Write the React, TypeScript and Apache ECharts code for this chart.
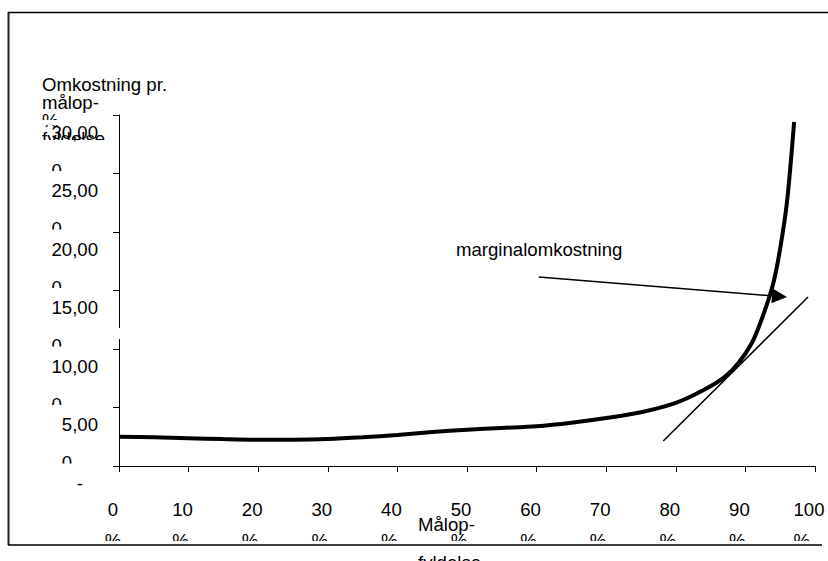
import React, { useEffect, useRef } from 'react';
import * as echarts from 'echarts';

// ---- data ----
const xValues = [0, 5, 10, 15, 20, 25, 30, 35, 40, 45, 50, 55, 60, 65, 70, 75, 80, 84, 87, 89, 91, 92.5, 94, 95, 96, 97];
const costValues = [2.5, 2.45, 2.38, 2.3, 2.25, 2.25, 2.3, 2.45, 2.65, 2.9, 3.1, 3.25, 3.4, 3.7, 4.1, 4.6, 5.4, 6.5, 7.6, 8.8, 10.6, 12.8, 15.6, 18.6, 22.7, 29.4];
const tangentX = [78.2, 99];
const tangentY = [2.14, 14.44];
const arrowFrom = [60.3, 16.15];
const arrowTo = [94.9, 14.49];
const yTickValues = [0, 5, 10, 15, 20, 25, 30];
const yTickLabels = ['-', '5,00', '10,00', '15,00', '20,00', '25,00', '30,00'];
const xTickValues = [0, 10, 20, 30, 40, 50, 60, 70, 80, 90, 100];
const xTickLabels = ['0', '10', '20', '30', '40', '50', '60', '70', '80', '90', '100'];
const yAxisTitle = ['Omkostning pr.', 'målop-', '%', 'fyldelse'];
const xAxisTitle = ['Målop-', 'fyldelse'];
const annotationText = 'marginalomkostning';

const FONT = '"Liberation Sans", Arial, sans-serif';
const FS = 18.6;

const baseGraphic: any[] = [
  // frame
  { type: 'line', z: 105, shape: { x1: 8.5, y1: 12, x2: 8.5, y2: 545 }, style: { stroke: '#222', lineWidth: 2 } },
  { type: 'line', z: 105, shape: { x1: 8, y1: 12.5, x2: 828, y2: 12.5 }, style: { stroke: '#000', lineWidth: 1.5 } },
  { type: 'line', z: 105, shape: { x1: 8, y1: 545, x2: 822, y2: 545 }, style: { stroke: '#000', lineWidth: 1.5 } },
  // y-axis title
  {
    type: 'text', z: 10, x: 42, y: 75,
    style: { text: yAxisTitle.join('\n'), fill: '#000', fontSize: FS, fontFamily: FONT, lineHeight: 18, align: 'left', verticalAlign: 'top' },
  },
  { type: 'rect', z: 20, shape: { x: 38, y: 120, width: 20, height: 5 }, style: { fill: '#fff' } },
  { type: 'rect', z: 20, shape: { x: 38, y: 140, width: 72, height: 10 }, style: { fill: '#fff' } },
  // y-axis break
  { type: 'rect', z: 100, shape: { x: 116, y: 328, width: 6, height: 11 }, style: { fill: '#fff' } },
  // clip of second line of x tick labels
  { type: 'rect', z: 100, shape: { x: 90, y: 541, width: 738, height: 20 }, style: { fill: '#fff' } },
  // x-axis title
  {
    type: 'text', z: 110, x: 418, y: 505,
    style: { text: xAxisTitle.join('\n'), fill: '#000', fontSize: FS, fontFamily: FONT, lineHeight: 38, align: 'left', verticalAlign: 'top' },
  },
  // annotation
  {
    type: 'text', z: 110, x: 456, y: 249,
    style: { text: annotationText, fill: '#000', fontSize: FS, fontFamily: FONT, align: 'left', verticalAlign: 'middle' },
  },
];

const option: any = {
  animation: false,
  backgroundColor: '#fff',
  textStyle: { fontFamily: FONT },
  grid: { left: 119, right: 13, top: 115, bottom: 95, containLabel: false },
  xAxis: {
    type: 'value', min: 0, max: 100, interval: 10, z: 50,
    axisLine: { show: true, lineStyle: { color: '#000', width: 1 } },
    axisTick: { show: true, length: 6, lineStyle: { color: '#000', width: 1 } },
    splitLine: { show: false },
    axisLabel: {
      margin: 26,
      padding: [0, 12, 0, 0],
      color: '#000',
      formatter: (v: number) => {
        const i = xTickValues.indexOf(v);
        return `{a|${i >= 0 ? xTickLabels[i] : v}}\n{b|%}`;
      },
      rich: {
        a: { fontSize: FS, lineHeight: 34, fontFamily: FONT, color: '#000' },
        b: { fontSize: FS, lineHeight: 28, fontFamily: FONT, color: '#000', align: 'left' },
      },
    },
  },
  yAxis: {
    type: 'value', min: 0, max: 30, interval: 5, z: 50,
    axisLine: { show: true, lineStyle: { color: '#000', width: 1 } },
    axisTick: { show: true, length: 6, lineStyle: { color: '#000', width: 1 } },
    splitLine: { show: false },
    axisLabel: {
      margin: 21,
      align: 'right',
      verticalAlign: 'top',
      color: '#000',
      formatter: (v: number) => {
        const i = yTickValues.indexOf(v);
        const lab = i >= 0 ? yTickLabels[i] : String(v);
        if (v === 0) return `{z|${lab}}`;
        return `{a|${lab}}\n{b|0}`;
      },
      rich: {
        a: { fontSize: FS, lineHeight: 34, fontFamily: FONT, color: '#000' },
        b: { fontSize: FS, lineHeight: 42, fontFamily: FONT, color: '#000', align: 'left' },
        z: { fontSize: FS, lineHeight: 34, fontFamily: FONT, color: '#000', padding: [0, 15, 0, 0] },
      },
    },
  },
  series: [
    {
      type: 'line',
      data: xValues.map((x, i) => [x, costValues[i]]),
      smooth: 0.3,
      showSymbol: false,
      symbol: 'none',
      lineStyle: { color: '#000', width: 4 },
      z: 5,
    },
    {
      type: 'line',
      data: tangentX.map((x, i) => [x, tangentY[i]]),
      showSymbol: false,
      symbol: 'none',
      lineStyle: { color: '#000', width: 1.5 },
      z: 4,
      markLine: {
        silent: true,
        symbol: ['none', 'triangle'],
        symbolSize: 15,
        label: { show: false },
        lineStyle: { color: '#000', width: 1.5, type: 'solid' },
        itemStyle: { color: '#000' },
        data: [[{ coord: arrowFrom }, { coord: arrowTo }]],
      },
    },
  ],
  graphic: baseGraphic,
};

export default function App() {
  const ref = useRef<HTMLDivElement>(null);
  useEffect(() => {
    const chart = echarts.init(ref.current!, null, { renderer: 'svg' });
    chart.setOption(option);
    const clips = yTickValues
      .filter((v) => v > 0)
      .map((v) => {
        const py = chart.convertToPixel({ yAxisIndex: 0 }, v) as number;
        return { type: 'rect', z: 100, shape: { x: 45, y: py + 56, width: 55, height: 9 }, style: { fill: '#fff' } };
      });
    chart.setOption({ graphic: [...baseGraphic, ...clips] });
    return () => chart.dispose();
  }, []);
  return <div ref={ref} style={{ position: 'fixed', left: 0, top: 0, width: 828, height: 561 }} />;
}
